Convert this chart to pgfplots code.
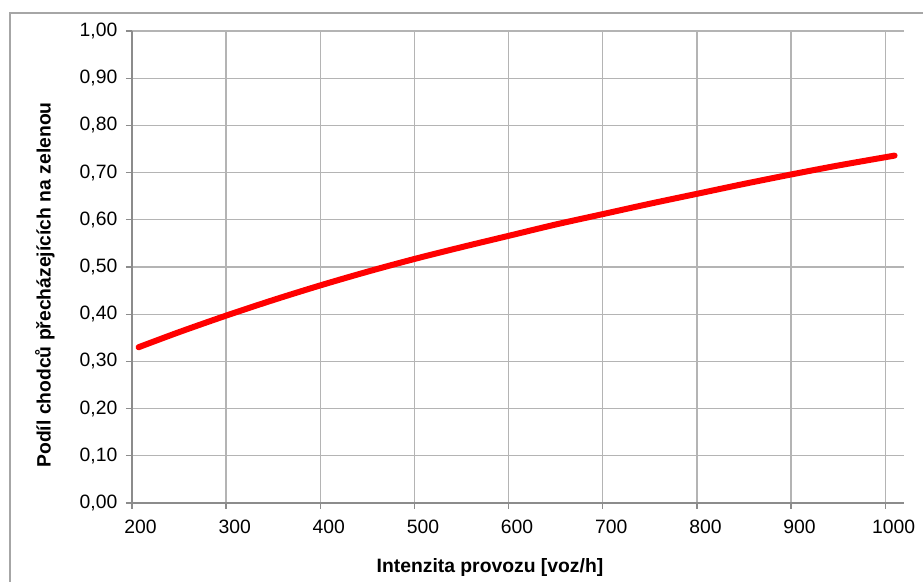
\documentclass[border=0pt]{standalone}
\usepackage{fontspec}
\setmainfont{Liberation Sans}
\usepackage{pgfplots}
\pgfplotsset{compat=1.18}
\definecolor{gridgray}{HTML}{B4B4B4}
\definecolor{axisgray}{HTML}{8C8C8C}
\definecolor{framegray}{HTML}{A6A6A6}
\begin{document}
\fontsize{14.5pt}{17pt}\selectfont
\begin{tikzpicture}
% page = 923 x 581 px at 0.75pt per px, origin at the axis' lower left corner
\useasboundingbox (-99pt,-58.5pt) rectangle (593.25pt,377.25pt);
\draw[framegray, line width=1.1pt] (-91.5pt,-70pt) -- (-91.5pt,367.5pt) -- (610pt,367.5pt);
\begin{axis}[
  at={(0,0)}, anchor=south west,
  scale only axis, width=579pt, height=354pt,
  xmin=200, xmax=1020, ymin=0, ymax=1,
  xtick={200,300,400,500,600,700,800,900,1000},
  ytick={0,0.1,0.2,0.3,0.4,0.5,0.6,0.7,0.8,0.9,1.0},
  axis x line*=bottom, axis y line*=left,
  axis line style={draw=axisgray, line width=1.5pt, -},
  grid=major, grid style={draw=gridgray, line width=1pt},
  tick align=outside, major tick length=4.5pt,
  tick style={draw=axisgray, line width=1pt},
  xticklabel style={xshift=6.4pt, yshift=-3.5pt},
  yticklabel style={xshift=-1.5pt},
  x tick label style={/pgf/number format/1000 sep={}},
  y tick label style={/pgf/number format/.cd, fixed, fixed zerofill, precision=2, use comma},
  /pgf/number format/assume math mode=true,
  xlabel={\bfseries Intenzita provozu [voz/h]},
  ylabel={\bfseries Podíl chodců přecházejících na zelenou},
  x label style={at={(axis description cs:0.4637,-0.1377)}, anchor=center},
  y label style={at={(axis description cs:-0.1127,0.4619)}, anchor=center},
]
\addplot[red, line width=4.5pt, line cap=round, smooth] coordinates {
(207,0.330) (250,0.362) (300,0.397) (350,0.430) (400,0.461)
(450,0.490) (500,0.517) (550,0.542) (600,0.566) (650,0.590)
(700,0.612) (750,0.634) (800,0.655) (850,0.676) (900,0.696)
(950,0.715) (1010,0.736)
};
\end{axis}
\end{tikzpicture}
\end{document}
